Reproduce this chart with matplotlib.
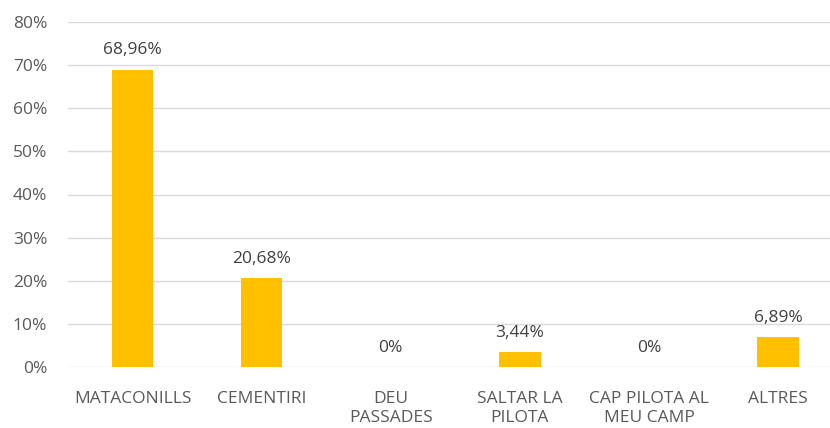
import matplotlib.pyplot as plt
from matplotlib.ticker import FuncFormatter

# Chart data
categories = ["MATACONILLS", "CEMENTIRI", "DEU\nPASSADES", "SALTAR LA\nPILOTA",
              "CAP PILOTA AL\nMEU CAMP", "ALTRES"]
values = [68.96, 20.68, 0, 3.44, 0, 6.89]
labels = ["68,96%", "20,68%", "0%", "3,44%", "0%", "6,89%"]
yticks = [0, 10, 20, 30, 40, 50, 60, 70, 80]

W, H = 830, 428
fig = plt.figure(figsize=(W / 100, H / 100), dpi=100)
plt.rcParams['font.family'] = ['Open Sans', 'DejaVu Sans']

# axes area in pixels: left 68, right 830 (plot extends slightly off canvas), top 22, bottom 367
ax = fig.add_axes([68 / W, (H - 367) / H, (830 - 68) / W, (367 - 22) / H])

text_color = '#595959'
fs = 12.5
x = range(len(categories))
ax.bar(x, values, width=0.32, color='#FFC000', zorder=3)

for i, (v, lab) in enumerate(zip(values, labels)):
    ax.annotate(lab, (i, v), xytext=(0, 8), textcoords='offset points',
                ha='center', va='bottom', fontsize=fs, color='#404040')

ax.set_ylim(0, 80)
ax.set_xlim(-0.5, 5.5 - 12.6 / 129)
ax.set_yticks(yticks)
ax.yaxis.set_major_formatter(FuncFormatter(lambda v, p: f"{int(v)}%"))
ax.set_xticks(list(x))
ax.set_xticklabels(categories, linespacing=1.3)

ax.grid(axis='y', color='#D9D9D9', linewidth=1, zorder=0)
ax.tick_params(axis='both', length=0, labelsize=fs, labelcolor=text_color)
ax.tick_params(axis='y', pad=15)
ax.tick_params(axis='x', pad=17)
for s in ax.spines.values():
    s.set_visible(False)

fig.savefig('out.png', dpi=100)
